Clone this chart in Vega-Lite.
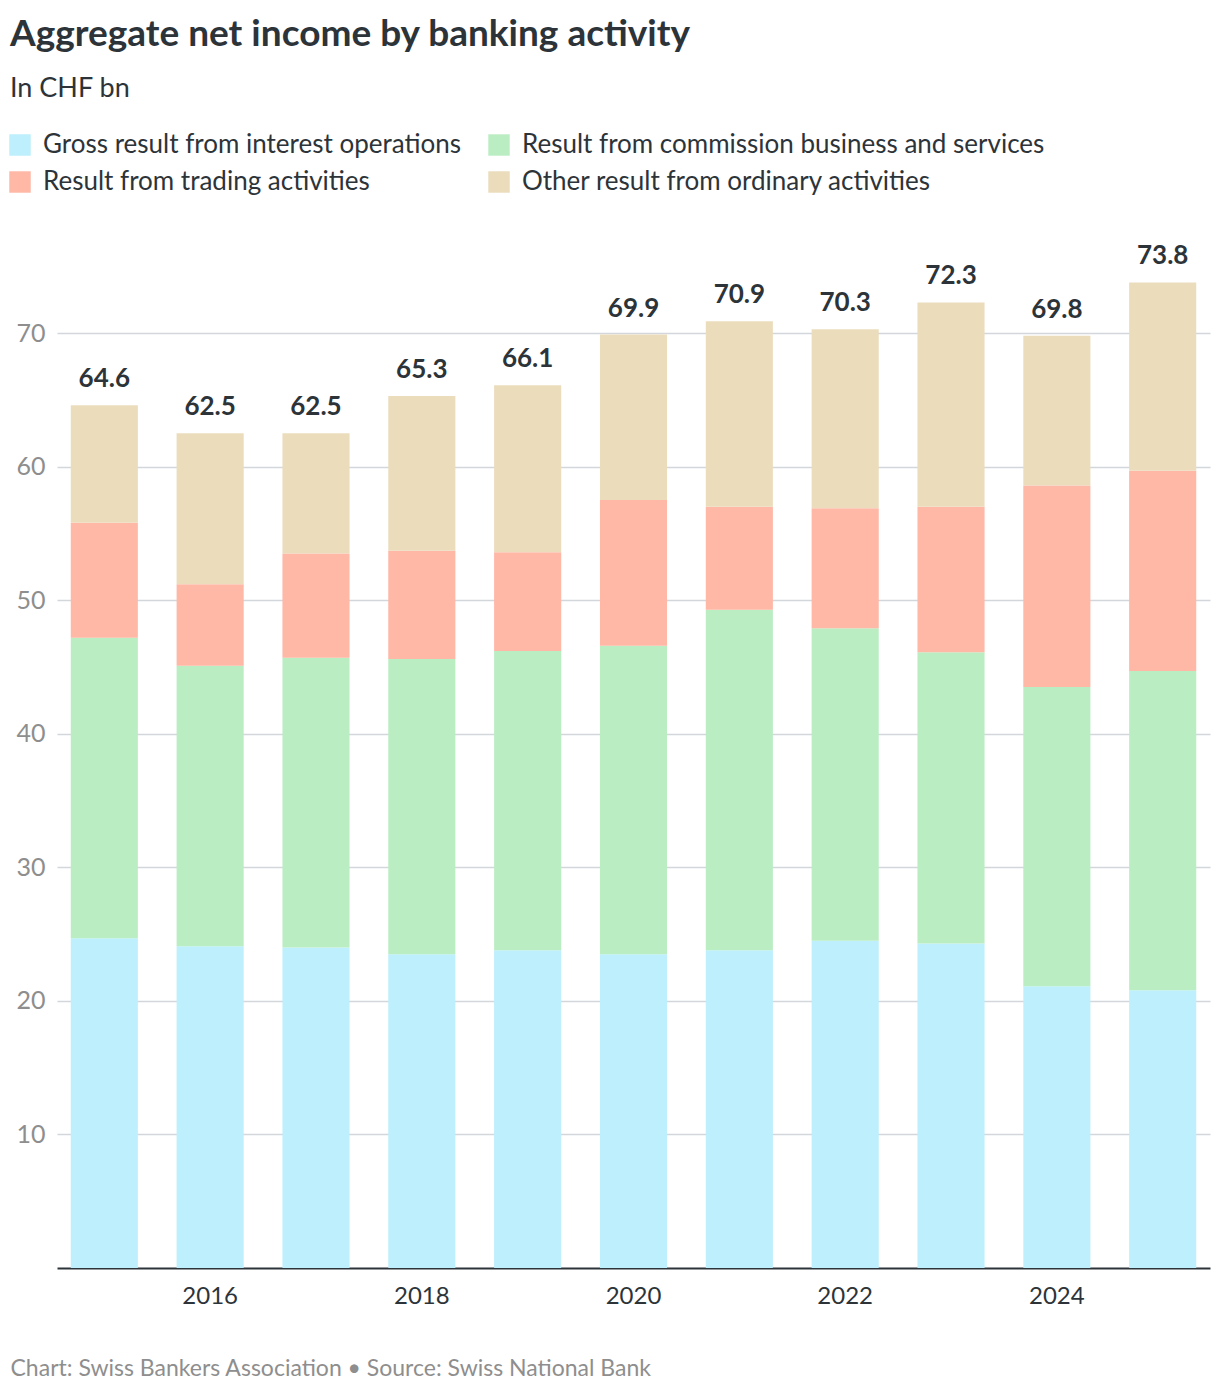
{
  "$schema": "https://vega.github.io/schema/vega-lite/v6.json",
  "width": 1220,
  "height": 1396,
  "autosize": {"type": "fit", "contains": "padding"},
  "padding": {"left": 10, "right": 10, "top": 16, "bottom": 16},
  "background": "white",
  "config": {
    "font": "Lato",
    "view": {"stroke": null}
  },
  "title": {
    "text": "Aggregate net income by banking activity",
    "subtitle": "In CHF bn",
    "anchor": "start",
    "frame": "bounds",
    "fontSize": 37,
    "fontWeight": "bold",
    "color": "#2d3439",
    "subtitleFontSize": 27,
    "subtitleColor": "#2d3439",
    "subtitlePadding": 22,
    "offset": 110
  },
  "data": {
    "values": [
      {"year": "2015", "category": "Gross result from interest operations", "value": 24.7},
      {"year": "2015", "category": "Result from commission business and services", "value": 22.5},
      {"year": "2015", "category": "Result from trading activities", "value": 8.6},
      {"year": "2015", "category": "Other result from ordinary activities", "value": 8.8},
      {"year": "2016", "category": "Gross result from interest operations", "value": 24.1},
      {"year": "2016", "category": "Result from commission business and services", "value": 21.0},
      {"year": "2016", "category": "Result from trading activities", "value": 6.1},
      {"year": "2016", "category": "Other result from ordinary activities", "value": 11.3},
      {"year": "2017", "category": "Gross result from interest operations", "value": 24.0},
      {"year": "2017", "category": "Result from commission business and services", "value": 21.7},
      {"year": "2017", "category": "Result from trading activities", "value": 7.8},
      {"year": "2017", "category": "Other result from ordinary activities", "value": 9.0},
      {"year": "2018", "category": "Gross result from interest operations", "value": 23.5},
      {"year": "2018", "category": "Result from commission business and services", "value": 22.1},
      {"year": "2018", "category": "Result from trading activities", "value": 8.1},
      {"year": "2018", "category": "Other result from ordinary activities", "value": 11.6},
      {"year": "2019", "category": "Gross result from interest operations", "value": 23.8},
      {"year": "2019", "category": "Result from commission business and services", "value": 22.4},
      {"year": "2019", "category": "Result from trading activities", "value": 7.4},
      {"year": "2019", "category": "Other result from ordinary activities", "value": 12.5},
      {"year": "2020", "category": "Gross result from interest operations", "value": 23.5},
      {"year": "2020", "category": "Result from commission business and services", "value": 23.1},
      {"year": "2020", "category": "Result from trading activities", "value": 10.9},
      {"year": "2020", "category": "Other result from ordinary activities", "value": 12.4},
      {"year": "2021", "category": "Gross result from interest operations", "value": 23.8},
      {"year": "2021", "category": "Result from commission business and services", "value": 25.5},
      {"year": "2021", "category": "Result from trading activities", "value": 7.7},
      {"year": "2021", "category": "Other result from ordinary activities", "value": 13.9},
      {"year": "2022", "category": "Gross result from interest operations", "value": 24.5},
      {"year": "2022", "category": "Result from commission business and services", "value": 23.4},
      {"year": "2022", "category": "Result from trading activities", "value": 9.0},
      {"year": "2022", "category": "Other result from ordinary activities", "value": 13.4},
      {"year": "2023", "category": "Gross result from interest operations", "value": 24.3},
      {"year": "2023", "category": "Result from commission business and services", "value": 21.8},
      {"year": "2023", "category": "Result from trading activities", "value": 10.9},
      {"year": "2023", "category": "Other result from ordinary activities", "value": 15.3},
      {"year": "2024", "category": "Gross result from interest operations", "value": 21.1},
      {"year": "2024", "category": "Result from commission business and services", "value": 22.4},
      {"year": "2024", "category": "Result from trading activities", "value": 15.1},
      {"year": "2024", "category": "Other result from ordinary activities", "value": 11.2},
      {"year": "2025", "category": "Gross result from interest operations", "value": 20.8},
      {"year": "2025", "category": "Result from commission business and services", "value": 23.9},
      {"year": "2025", "category": "Result from trading activities", "value": 15.0},
      {"year": "2025", "category": "Other result from ordinary activities", "value": 14.1}
    ]
  },
  "encoding": {
    "x": {
      "field": "year",
      "type": "ordinal",
      "scale": {"paddingInner": 0.366, "paddingOuter": 0.13},
      "axis": {
        "labelAngle": 0,
        "labelExpr": "toNumber(datum.value) % 2 == 0 ? datum.label : ''",
        "labelFontSize": 24,
        "labelColor": "#2d3439",
        "labelPadding": 16,
        "ticks": false,
        "domainColor": "#2d3439",
        "domainWidth": 2,
        "title": "Chart: Swiss Bankers Association • Source: Swiss National Bank",
        "titleFontSize": 23,
        "titleFontWeight": "normal",
        "titleColor": "#8e8e8e",
        "titleAnchor": "start",
        "titleAlign": "left",
        "titleBaseline": "middle",
        "titleX": -47,
        "titleY": 100
      }
    },
    "y": {
      "field": "value",
      "type": "quantitative",
      "aggregate": "sum",
      "scale": {"domain": [0, 79], "nice": false},
      "axis": {
        "title": null,
        "values": [10, 20, 30, 40, 50, 60, 70],
        "labelFontSize": 25,
        "labelColor": "#8e8e8e",
        "labelPadding": 12,
        "ticks": false,
        "domain": false,
        "gridColor": "#d3d6da",
        "gridWidth": 1.5
      }
    }
  },
  "layer": [
    {
      "transform": [
        {"calculate": "indexof(['Gross result from interest operations','Result from commission business and services','Result from trading activities','Other result from ordinary activities'], datum.category)", "as": "stackOrder"}
      ],
      "mark": {"type": "bar"},
      "encoding": {
        "color": {
          "field": "category",
          "type": "nominal",
          "scale": {
            "domain": [
              "Gross result from interest operations",
              "Result from commission business and services",
              "Result from trading activities",
              "Other result from ordinary activities"
            ],
            "range": ["#bdeffd", "#bbedc3", "#ffb7a6", "#ebdcbc"]
          },
          "legend": {
            "title": null,
            "orient": "none",
            "legendX": -50,
            "legendY": -81,
            "direction": "horizontal",
            "columns": 2,
            "gridAlign": "none",
            "symbolType": "square",
            "symbolSize": 460,
            "symbolStrokeWidth": 0,
            "symbolOpacity": 1,
            "labelFontSize": 26,
            "labelColor": "#2d3439",
            "labelOffset": 10,
            "labelLimit": 700,
            "columnPadding": 24,
            "rowPadding": 11
          }
        },
        "order": {"field": "stackOrder", "type": "quantitative", "sort": "ascending"}
      }
    },
    {
      "mark": {"type": "text", "dy": -26, "fontSize": 26, "fontWeight": "bold", "color": "#2d3439"},
      "encoding": {
        "text": {"field": "value", "aggregate": "sum", "type": "quantitative", "format": ".1f"}
      }
    }
  ]
}
